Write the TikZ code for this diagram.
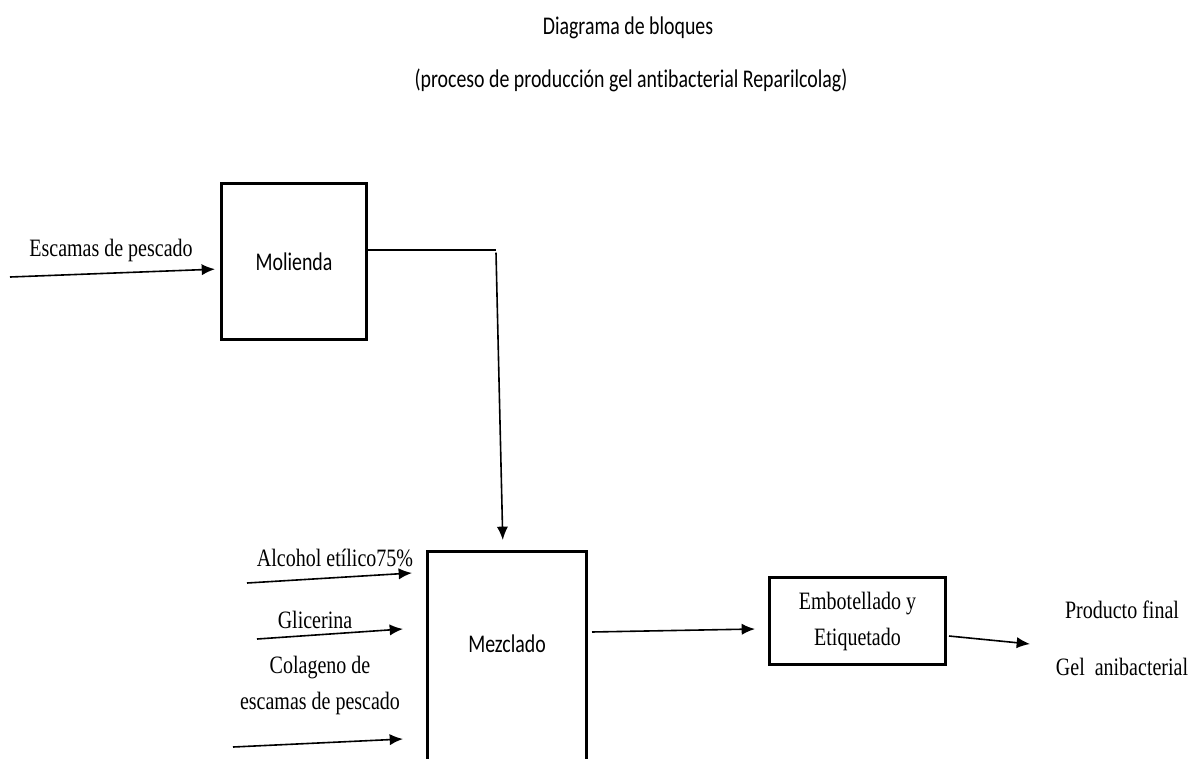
\documentclass[tikz,border=0pt]{standalone}
\usepackage{fontspec}
\newfontfamily\calibri[FakeStretch=0.78, Ligatures=NoCommon]{Carlito}
\newfontfamily\tnr[FakeStretch=0.8]{Liberation Serif}
\usetikzlibrary{arrows.meta}

\begin{document}
\begin{tikzpicture}[
    		x=0.75pt, y=-0.75pt,
    		every node/.style={anchor=center, inner sep=0pt},
    		titulo/.style={font=\calibri\fontsize{19.1}{23}\selectfont},
    		bloque/.style={draw, line width=2.25pt, font=\calibri\fontsize{19.1}{23}\selectfont},
    		etiqueta/.style={font=\tnr\fontsize{18.75}{27}\selectfont, align=center},
    		flecha/.style={-{Latex[length=10pt,width=8.5pt]}, line width=1.2pt},
    		linea/.style={line width=0.8pt}
    		]
    		
    		\useasboundingbox (0,0) rectangle (1194,758);
    		\clip (0,0) rectangle (1194,758);
    		
    		\node[titulo] (tit) at (628,28) {Diagrama de bloques};
    		\node[titulo] (subtit) at (631,80) {(proceso de producción gel antibacterial Reparilcolag)};
    		
    		\node[bloque, minimum width=108.75pt, minimum height=117pt] (molienda) at (294,261.5) {Molienda};
    		\node[bloque, minimum width=119.25pt, minimum height=156.4pt, text depth=18pt] (mezclado) at (507,655.75) {Mezclado};
    		\node[bloque, etiqueta, minimum width=132pt, minimum height=65.25pt] (embot) at (857.5,621) {Embotellado y\\Etiquetado};
    		
    		\node[etiqueta] (escamas) at (111,250) {Escamas de pescado};
    		\node[etiqueta] (alcohol) at (335,558) {Alcohol etílico75\%};
    		\node[etiqueta] (glicerina) at (315,620) {Glicerina};
    		\node[etiqueta] (colageno) at (320,685) {Colageno de\\escamas de pescado};
    		\node[etiqueta] (producto) at (1122,610) {Producto final};
    		\node[etiqueta] (gel) at (1122,667) {Gel~~anibacterial};
    		
    		\coordinate (inEsc) at (10,277);
    		\coordinate (inAlc) at (247,583);
    		\coordinate (inGli) at (257,639);
    		\coordinate (inCol) at (233,747);
    		\coordinate (codo) at (496,250);
    		\coordinate (outProd) at (1030,644);
    		
    		\draw[flecha] (inEsc) -- ([yshift=-5.6pt]molienda.west) [shorten >=3.75pt];
    		\draw[linea] (molienda.east |- codo) -- (codo);
    		\draw[flecha] ([yshift=-2pt]codo) -- ([xshift=-3pt]mezclado.north) [shorten >=7.5pt];
    		\draw[flecha] (inAlc) -- ([xshift=-10.5pt, yshift=-17.25pt]mezclado.north west);
    		\draw[flecha] (inGli) -- ([xshift=-17.25pt, yshift=-59.25pt]mezclado.north west);
    		\draw[flecha] (inCol) -- ([xshift=-17.25pt, yshift=-141.75pt]mezclado.north west);
    		\draw[flecha] ([xshift=3pt, yshift=-61.5pt]mezclado.north east) -- ([xshift=-9.75pt, yshift=-6pt]embot.west);
    		\draw[flecha] ([xshift=1.5pt, yshift=-11.25pt]embot.east) -- (outProd);
    		
    		\end{tikzpicture}
\end{document}
